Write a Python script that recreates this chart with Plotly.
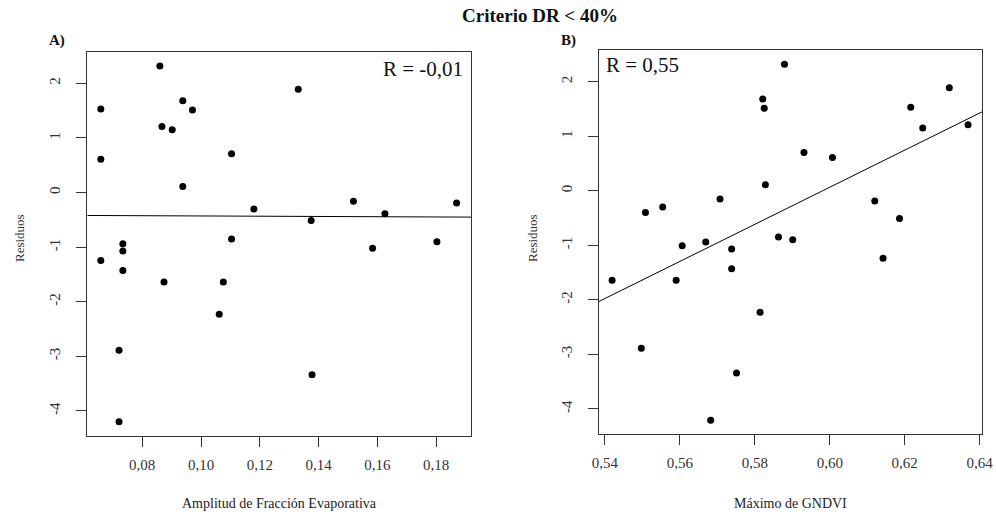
import plotly.graph_objects as go

# ---- data ----
residuos = [1.53, 0.61, 2.32, 1.21, 1.15, 1.68, 1.51, 0.11, 0.71, -0.30,
            1.89, -0.51, -0.16, -0.39, -0.19, -0.85, -1.02, -0.90, -0.94, -1.07,
            -1.245, -1.43, -1.64, -1.64, -2.23, -2.89, -3.34, -4.20]
amplitud_fe = [0.0659, 0.0659, 0.0860, 0.0867, 0.0902, 0.0938, 0.0971, 0.0938, 0.1104, 0.1180,
               0.1331, 0.1375, 0.1519, 0.1626, 0.1870, 0.1104, 0.1584, 0.1803, 0.0734, 0.0734,
               0.0659, 0.0734, 0.0874, 0.1076, 0.1062, 0.0721, 0.1378, 0.0721]

residuos_b = [2.32, 1.68, 1.51, 0.11, 0.70, 0.61, 1.53, 1.15, 1.89, 1.21,
              -0.19, -0.51, -0.40, -0.30, -0.15, -1.01, -0.94, -1.07, -0.85, -0.90,
              -1.24, -1.64, -1.64, -1.43, -2.23, -2.89, -3.34, -4.21]
max_gndvi = [0.5879, 0.5821, 0.5825, 0.5828, 0.5931, 0.6007, 0.6216, 0.6248, 0.6319, 0.6369,
             0.6120, 0.6186, 0.5508, 0.5554, 0.5707, 0.5606, 0.5669, 0.5738, 0.5863, 0.5901,
             0.6142, 0.5419, 0.5590, 0.5738, 0.5814, 0.5497, 0.5751, 0.5682]

# regression lines (intercept, slope)
fit_a = (-0.406, -0.23)
fit_b = (-2.030 - 34.0 * 0.5384, 34.0)

xa_range = [0.0613, 0.1919]
xb_range = [0.5384, 0.6407]
y_range = [-4.46, 2.58]

xa_ticks = [0.08, 0.10, 0.12, 0.14, 0.16, 0.18]
xa_text = ["0,08", "0,10", "0,12", "0,14", "0,16", "0,18"]
xb_ticks = [0.54, 0.56, 0.58, 0.60, 0.62, 0.64]
xb_text = ["0,54", "0,56", "0,58", "0,60", "0,62", "0,64"]
y_ticks = [-4, -3, -2, -1, 0, 1, 2]
y_text = ["-4", "-3", "-2", "-1", "0", "1", "2"]

title = "Criterio DR < 40%"
r_a = "R = -0,01"
r_b = "R = 0,55"

FONT = "Liberation Serif"
W, H = 996, 514

fig = go.Figure()
fig.add_trace(go.Scatter(x=amplitud_fe, y=residuos, mode="markers",
                         marker=dict(color="black", size=7), xaxis="x", yaxis="y"))
fig.add_trace(go.Scatter(x=xa_range, y=[fit_a[0] + fit_a[1] * v for v in xa_range], mode="lines",
                         line=dict(color="black", width=1), xaxis="x", yaxis="y"))
fig.add_trace(go.Scatter(x=max_gndvi, y=residuos_b, mode="markers",
                         marker=dict(color="black", size=7), xaxis="x2", yaxis="y2"))
fig.add_trace(go.Scatter(x=xb_range, y=[fit_b[0] + fit_b[1] * v for v in xb_range], mode="lines",
                         line=dict(color="black", width=1), xaxis="x2", yaxis="y2"))

axis_common = dict(showline=True, mirror=True, linecolor="#333333", linewidth=1.3,
                   ticks="outside", ticklen=10, tickcolor="#333333", tickwidth=1,
                   showgrid=False, zeroline=False, automargin=False,
                   tickfont=dict(family=FONT, size=15, color="#333333"))

fig.update_layout(
    template="none",
    width=W, height=H, margin=dict(l=0, r=0, t=0, b=0, pad=0),
    paper_bgcolor="white", plot_bgcolor="white", showlegend=False,
    xaxis=dict(domain=[87.3 / W, 471 / W], range=xa_range, tickvals=xa_ticks, ticktext=xa_text,
               anchor="y", ticklabelstandoff=5, **axis_common),
    yaxis=dict(domain=[1 - 436 / H, 1 - 51.7 / H], range=y_range, tickvals=y_ticks, ticktext=y_text,
               anchor="x", tickangle=-90, ticklabelstandoff=10, **axis_common),
    xaxis2=dict(domain=[599 / W, 982.3 / W], range=xb_range, tickvals=xb_ticks, ticktext=xb_text,
                anchor="y2", ticklabelstandoff=5, **axis_common),
    yaxis2=dict(domain=[1 - 434 / H, 1 - 50 / H], range=y_range, tickvals=y_ticks, ticktext=y_text,
                anchor="x2", tickangle=-90, ticklabelstandoff=10, **axis_common),
)

def ann(text, x, y, size, bold=False, xanchor="center", angle=0, color="#111111"):
    fig.add_annotation(text=f"<b>{text}</b>" if bold else text, x=x / W, y=1 - y / H,
                       xref="paper", yref="paper", showarrow=False, xanchor=xanchor,
                       yanchor="middle", textangle=angle,
                       font=dict(family=FONT, size=size, color=color))

ann(title, 540, 15, 19, bold=True)
ann("A)", 57, 41, 15, bold=True)
ann("B)", 568, 41, 15, bold=True)
ann(r_a, 465, 69, 21, xanchor="right")
ann(r_b, 604, 65, 21, xanchor="left")
ann("Amplitud de Fracción Evaporativa", 279, 503, 14, color="#222222")
ann("Máximo de GNDVI", 790, 503, 14, color="#222222")
ann("Residuos", 19, 238, 13, angle=-90, color="#333333")
ann("Residuos", 532, 238, 13, angle=-90, color="#333333")

fig.write_html("out.html")
